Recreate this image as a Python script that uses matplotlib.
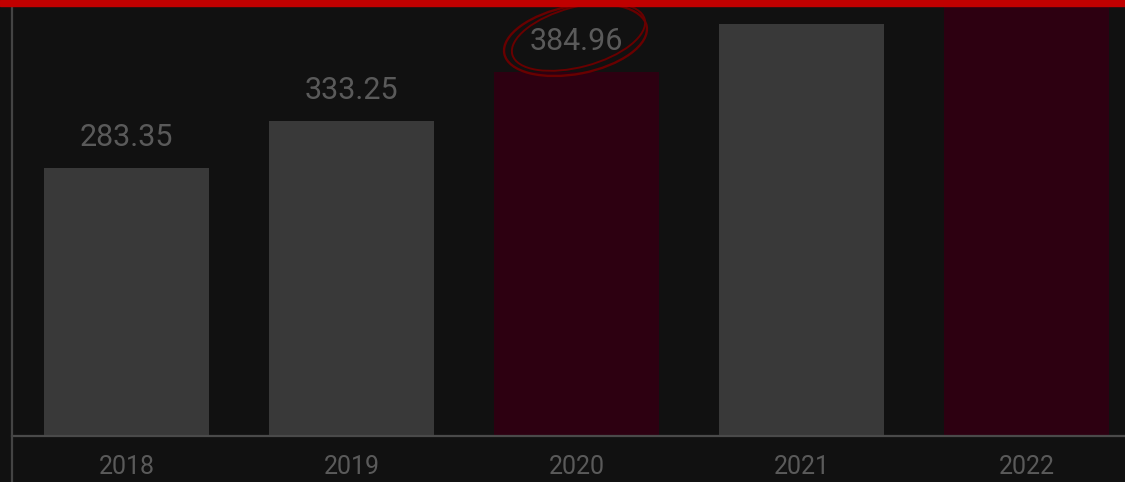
import matplotlib.pyplot as plt
from matplotlib.patches import Ellipse, Rectangle
from matplotlib.lines import Line2D

# data
years = ['2018', '2019', '2020', '2021', '2022']
values = [283.35, 333.25, 384.96, 435.6, 500.0]
show_label = [True, True, True, False, False]
highlight = [False, False, True, False, True]
circled = 2  # index of circled label

bg = '#111111'
bar_grey = '#393939'
bar_red = '#2d0011'
text_col = '#5a5a5a'

plt.rcParams['font.family'] = ['Roboto', 'DejaVu Sans']

fig = plt.figure(figsize=(11.25, 4.82), dpi=100, facecolor=bg)
ax = fig.add_axes([12 / 1125, 46 / 482, 1 - 12 / 1125, 430 / 482], facecolor=bg)

x = range(len(years))
colors = [bar_red if h else bar_grey for h in highlight]
ax.bar(x, values, width=0.733, color=colors, zorder=2)

ax.set_xlim(-0.509, 4.438)
ax.set_ylim(0, 454.6)

for i, v in enumerate(values):
    if show_label[i]:
        ax.annotate(f'{v:.2f}', (i, v), xytext=(0, 22), textcoords='offset pixels',
                    ha='center', va='baseline', color=text_col, fontsize=22)

ax.set_xticks(list(x))
ax.set_xticklabels(years, color=text_col, fontsize=18)
ax.tick_params(axis='x', length=0, pad=14)
ax.set_yticks([])

for s in ['top', 'right', 'left']:
    ax.spines[s].set_visible(False)
ax.spines['bottom'].set_color('#4a4a4a')
ax.spines['bottom'].set_linewidth(1.6)

# left rule runs full height
fig.lines.append(Line2D([12 / 1125, 12 / 1125], [0, 1], transform=fig.transFigure,
                        color='#444444', linewidth=1.6))

# hand-drawn circle around one label
cx, cy = ax.transData.transform((circled, values[circled]))
cx, cy = cx / 100, (cy + 33) / 100
ax.add_patch(Ellipse((cx - 0.01, cy - 0.01), 1.45, 0.68, angle=11, fill=False,
                     edgecolor='#680000', linewidth=1.7,
                     transform=fig.dpi_scale_trans, clip_on=False, zorder=3))
ax.add_patch(Ellipse((cx + 0.02, cy + 0.02), 1.37, 0.6, angle=15, fill=False,
                     edgecolor='#680000', linewidth=1.4,
                     transform=fig.dpi_scale_trans, clip_on=False, zorder=3))

# red strip on top
fig.patches.append(Rectangle((0, 1 - 6 / 482), 1, 6 / 482, transform=fig.transFigure,
                             color='#c00000', zorder=10))

fig.savefig('out.png', dpi=100, facecolor=bg)
